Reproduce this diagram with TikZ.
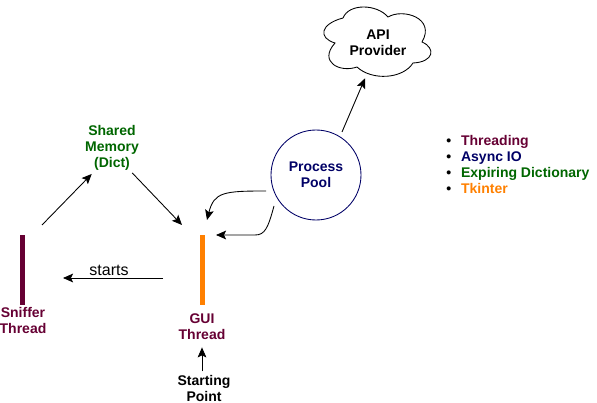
\documentclass[tikz,border=0pt]{standalone}
\usepackage{fontspec}
\setmainfont{Liberation Sans}
\usetikzlibrary{arrows.meta}
\definecolor{threadcol}{HTML}{660033}
\definecolor{asynccol}{HTML}{000066}
\definecolor{dictcol}{HTML}{006600}
\definecolor{tkcol}{HTML}{FF8000}
\begin{document}
\begin{tikzpicture}[x=0.75pt,y=-0.75pt,line width=0.65pt,>={Stealth[length=7.5pt,width=6.5pt,inset=1.5pt]},
    lbl/.style={align=center,inner sep=0pt,font=\fontsize{10.5pt}{12pt}\selectfont\bfseries},
    bar/.style={inner sep=0pt,outer sep=0pt,minimum width=3.75pt,minimum height=52.5pt}]
  \useasboundingbox (0,0) rectangle (597,403);
  % ===================== threads =====================
  \node[bar,fill=threadcol] (sniffer) at (22.5,270){};
  \node[lbl,text=threadcol] (snifferlbl) at (23,320){Sniffer\\Thread};
  \node[bar,fill=tkcol] (gui) at (202.5,270){};
  \node[lbl,text=threadcol] (guilbl) at (202,327){GUI\\Thread};
  \node[lbl] (start) at (204,388){Starting\\Point};
  % ===================== memory =====================
  \node[lbl,text=dictcol] (memory) at (112,148){Shared\\Memory\\(Dict)};
  % ===================== process pool + API =====================
  \node[circle,draw=asynccol,inner sep=0pt,minimum size=67.5pt,lbl,text=asynccol] (pool) at (316,175){Process\\Pool};
  \draw (335,43) .. controls (318,38) and (320,24) .. (343,18)
    .. controls (349,3) and (377,4) .. (388,17)
    .. controls (403,8) and (436,18) .. (422,42)
    .. controls (436,48) and (434,62) .. (413,63)
    .. controls (403,79) and (372,81) .. (357,67)
    .. controls (340,73) and (318,62) .. cycle;
  \node[lbl] (api) at (378,42.5){API\\Provider};
  % ---------- arrows ----------
  \draw[->] ([shift={(19.5,-10)}]sniffer.north)--([shift={(7,3)}]memory.south west);
  \draw[->] ([shift={(-7,2)}]memory.south east)--([shift={(-20.5,-10)}]gui.north);
  \draw[->] ([shift={(-39.5,43)}]gui.north)--([shift={(40.5,43)}]sniffer.north)
    node[midway,above=-2pt,xshift=-3pt,font=\fontsize{12pt}{14pt}\selectfont] (startslbl) {starts};
  \draw[->] ([shift={(-2,-3)}]start.north)--([shift={(0,7)}]guilbl.south);
  \draw[->] ([shift={(26,-43)}]pool.center)--([shift={(-13,22.5)}]api.south);
  \draw[->] ([shift={(-50,16)}]pool.center) .. controls +(-42,0) and +(7,-28) .. ([shift={(4.5,-15)}]gui.north);
  \draw[->] ([shift={(-42,31)}]pool.center) .. controls +(-6,22) and +(10,0) .. ++(-19,29)--([shift={(13.5,0)}]gui.north);
  % ---------- list ----------
  \node[lbl,align=left,anchor=north west] (legend) at (446,135){%
    \makebox[11pt][l]{\textbullet}\textcolor{threadcol}{Threading}\\
    \makebox[11pt][l]{\textbullet}\textcolor{asynccol}{Async IO}\\
    \makebox[11pt][l]{\textbullet}\textcolor{dictcol}{Expiring Dictionary}\\
    \makebox[11pt][l]{\textbullet}\textcolor{tkcol}{Tkinter}};
\end{tikzpicture}
\end{document}
